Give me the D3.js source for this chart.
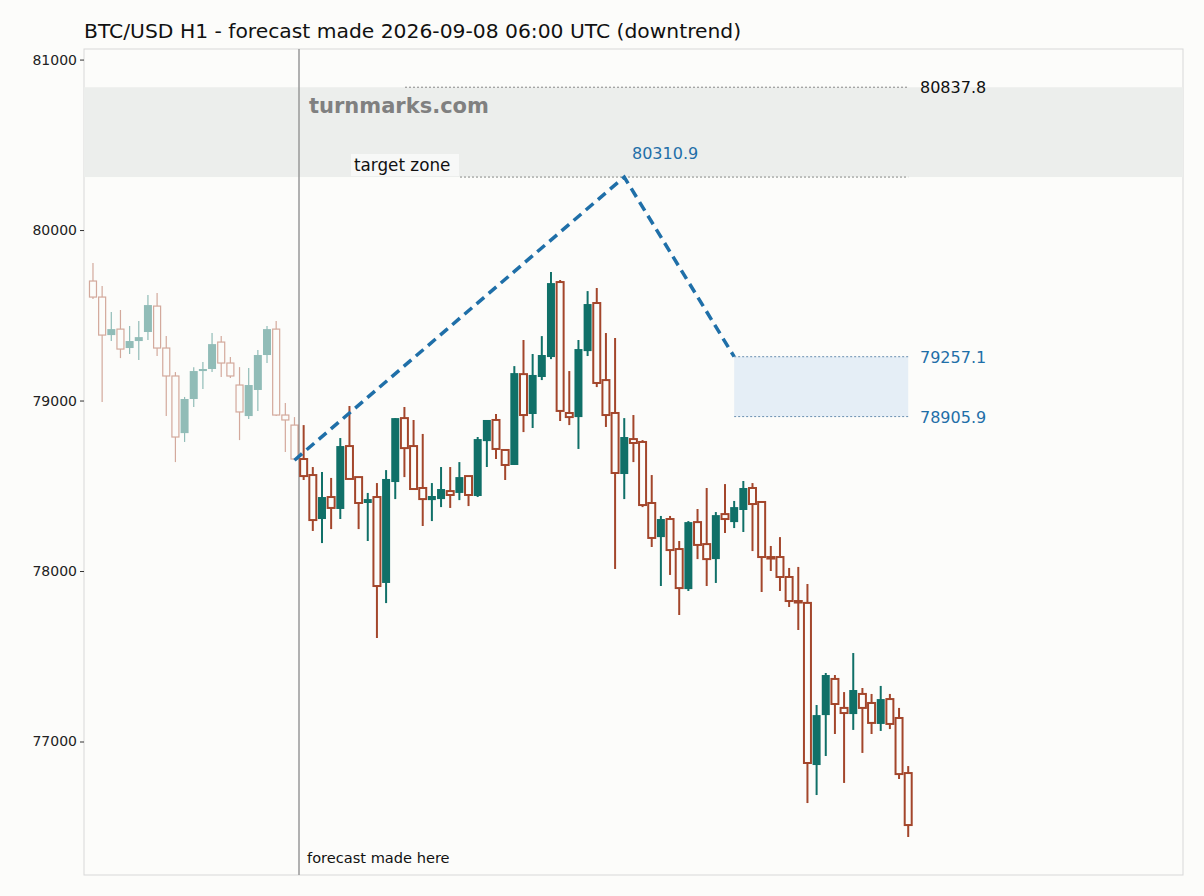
<!DOCTYPE html>
<html><head><meta charset="utf-8">
<script src="https://cdn.jsdelivr.net/npm/d3@7"></script>
<style>body{margin:0;background:#fcfcfa;font-family:"DejaVu Sans",sans-serif}</style>
</head><body><svg id="c" width="1204" height="896"></svg>
<script>
const opens=[79701,79607,79384,79419,79308,79349,79402,79554,79308,79144,78809,79009,79173,79185,79343,79220,79091,78909,79062,79267,79419,78915,78856,
78657,78563,78305,78434,78364,78733,78551,78399,78434,77930,78522,78897,78733,78487,78416,78422,78469,78458,78557,78440,78762,78886,78710,78622,79155,78921,79138,79255,79695,78927,78903,79290,79572,79120,78927,78569,78774,78757,78399,78199,78305,78129,77894,78287,78158,78070,78334,78287,78358,78487,78405,78082,78082,77965,77824,77813,76862,77155,77367,77197,77161,77279,77226,77103,77249,77138,76815];
const highs=[79807,79672,79519,79531,79437,79466,79619,79631,79378,79167,79021,79196,79226,79396,79378,79255,79196,79191,79296,79437,79466,78985,78903,
78856,78610,78581,78546,78780,78968,78551,78458,78516,78592,78897,78962,78886,78804,78516,78610,78610,78639,78557,78786,78886,78921,78710,79202,79355,79273,79378,79754,79707,79173,79355,79642,79660,79396,79367,78897,78915,78768,78563,78323,78323,78176,78293,78364,78487,78346,78510,78411,78528,78516,78405,78147,78199,78018,78024,77924,77214,77402,77390,77290,77519,77314,77279,77326,77279,77197,76856];
const lows=[79595,78991,79349,79249,79273,79238,79355,79261,78909,78639,78757,78962,79067,79167,79138,79132,78768,78892,78939,79220,78909,78698,78651,
78534,78235,78164,78246,78305,78540,78246,78176,77607,77812,78422,78551,78481,78264,78293,78375,78370,78416,78381,78434,78610,78657,78534,78622,78815,78839,79120,79243,78880,78856,78716,79261,79079,78845,78012,78422,78639,78375,78141,77912,77977,77742,77883,78070,77912,77930,78223,78252,78229,78117,77877,78000,77883,77789,77654,76639,76686,76915,77044,76757,77068,76933,77044,77062,77073,76780,76440];
const closes=[79607,79384,79419,79302,79349,79372,79560,79308,79144,78786,79009,79173,79185,79331,79220,79144,78933,79091,79267,79419,78915,78886,78657,
78557,78299,78434,78370,78733,78540,78399,78422,77912,78540,78897,78721,78481,78422,78440,78481,78446,78551,78446,78774,78886,78716,78622,79161,78915,79150,79267,79689,78939,78903,79302,79566,79103,78915,78575,78786,78751,78387,78194,78305,78123,77900,78287,78153,78070,78328,78305,78375,78487,78393,78082,78076,77965,77824,77818,76874,77155,77390,77220,77167,77302,77197,77109,77249,77103,76809,76510];
const historyCount=23;
const yTicks=[77000,78000,79000,80000,81000];
const forecastIdx=[22,58,70];
const forecastVals=[78650,80310.9,79257.1];
const targetHigh=80837.8, targetLow=80310.9;
const zoneHigh=79257.1, zoneLow=78905.9;

const svg=d3.select("#c");
const L=84,R=1183,T=49,B=875;
const x=d3.scaleLinear().domain([-0.98,119]).range([L,R]);
const y=d3.scaleLinear().domain([76217,81062]).range([B,T]);
const BEAR="#a3462b",BULL="#107068",BG="#fcfcfa";
svg.append("rect").attr("width",1204).attr("height",896).attr("fill",BG);
svg.append("text").attr("x",84).attr("y",38).attr("font-size",20.3).attr("fill","#111").text("BTC/USD H1 - forecast made 2026-09-08 06:00 UTC (downtrend)");
svg.append("rect").attr("x",L).attr("y",T).attr("width",R-L).attr("height",B-T).attr("fill","none").attr("stroke","#d8d8d8");
svg.append("rect").attr("x",L).attr("y",y(targetHigh)).attr("width",R-L).attr("height",y(targetLow)-y(targetHigh)).attr("fill","#eceeec");
svg.append("text").attr("x",309).attr("y",113).attr("font-size",21).attr("font-weight","bold").attr("fill","#808080").text("turnmarks.com");
svg.append("line").attr("x1",405).attr("x2",x(89)).attr("y1",y(targetHigh)).attr("y2",y(targetHigh)).attr("stroke","#888").attr("stroke-dasharray","2,2");
svg.append("line").attr("x1",460).attr("x2",x(89)).attr("y1",y(targetLow)).attr("y2",y(targetLow)).attr("stroke","#888").attr("stroke-dasharray","2,2");
svg.append("rect").attr("x",x(70)).attr("y",y(zoneHigh)).attr("width",x(89)-x(70)).attr("height",y(zoneLow)-y(zoneHigh)).attr("fill","#e5eef6");
[zoneHigh,zoneLow].forEach(v=>svg.append("line").attr("x1",x(70)).attr("x2",x(89)).attr("y1",y(v)).attr("y2",y(v)).attr("stroke","#6a8fb0").attr("stroke-dasharray","2,2"));
svg.append("text").attr("x",920).attr("y",y(targetHigh)+6).attr("font-size",16).attr("fill","#111").text(targetHigh.toFixed(1));
svg.append("text").attr("x",920).attr("y",y(zoneHigh)+6).attr("font-size",16).attr("fill","#1f6fa8").text(zoneHigh.toFixed(1));
svg.append("text").attr("x",920).attr("y",y(zoneLow)+6).attr("font-size",16).attr("fill","#1f6fa8").text(zoneLow.toFixed(1));
svg.append("text").attr("x",632).attr("y",159).attr("font-size",16).attr("fill","#1f6fa8").text(forecastVals[1].toFixed(1));
svg.append("rect").attr("x",351).attr("y",154).attr("width",108).attr("height",22).attr("fill","#fff").attr("opacity",0.6);
svg.append("text").attr("x",354).attr("y",171).attr("font-size",16.8).attr("fill","#111").text("target zone");
const ax=svg.append("g").attr("transform",`translate(${L},0)`).call(d3.axisLeft(y).tickValues(yTicks).tickFormat(d3.format("d")).tickSize(4));
ax.select(".domain").remove();
ax.selectAll("text").attr("font-size",14).attr("font-family","DejaVu Sans").attr("fill","#222");
ax.selectAll("line").attr("stroke","#333");
svg.append("line").attr("x1",299).attr("x2",299).attr("y1",T).attr("y2",B).attr("stroke","#999").attr("stroke-width",1.5);
svg.append("text").attr("x",307).attr("y",863).attr("font-size",14.6).attr("fill","#111").text("forecast made here");
const g=svg.append("g");
opens.forEach((o,i)=>{
  const c=closes[i],bull=c>=o,col=bull?BULL:BEAR,op=i<historyCount?0.45:1,cx=x(i),w=7;
  const gg=g.append("g").attr("opacity",op);
  gg.append("line").attr("x1",cx).attr("x2",cx).attr("y1",y(highs[i])).attr("y2",y(lows[i])).attr("stroke",col).attr("stroke-width",i<historyCount?1.2:2);
  const top=y(Math.max(o,c)),h=Math.max(1.5,y(Math.min(o,c))-top);
  if(bull) gg.append("rect").attr("x",cx-w/2-0.5).attr("y",top).attr("width",w+1).attr("height",h).attr("fill",col);
  else gg.append("rect").attr("x",cx-w/2).attr("y",top).attr("width",w).attr("height",h).attr("fill",BG).attr("stroke",col).attr("stroke-width",i<historyCount?1.2:2);
});
svg.append("path").attr("d",d3.line().x(d=>x(d[0])).y(d=>y(d[1]))(forecastIdx.map((d,i)=>[d,forecastVals[i]])))
 .attr("fill","none").attr("stroke","#1f6fa8").attr("stroke-width",3.5).attr("stroke-dasharray","10,6");
</script></body></html>
